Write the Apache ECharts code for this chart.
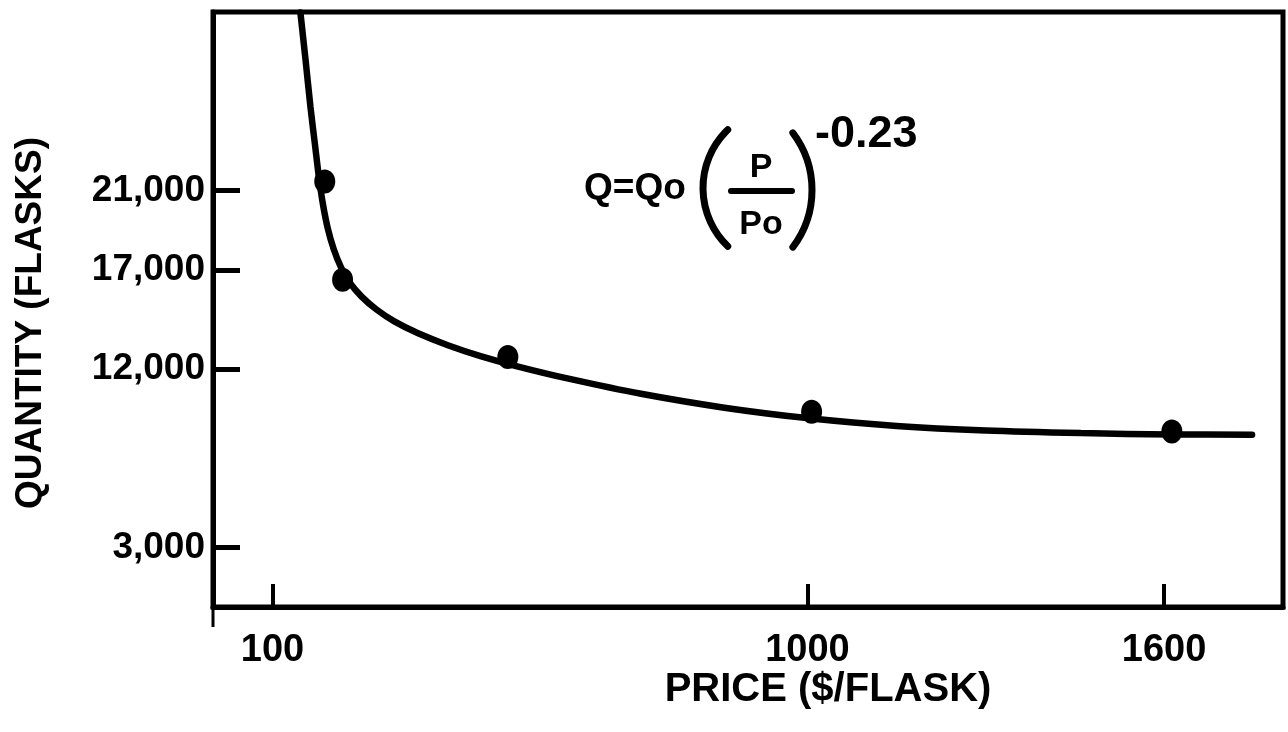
<!DOCTYPE html>
<html><head><meta charset="utf-8">
<script src="https://cdn.jsdelivr.net/npm/echarts@6/dist/echarts.min.js"></script>
<style>html,body{margin:0;padding:0;background:#fff}#c{width:1288px;height:732px}</style>
</head><body><div id="c"></div>
<script>
// ---- data ----
const xTickValues = [100, 1000, 1600];
const yTickValues = [3000, 12000, 17000, 21000];
const pointPrice = [188, 218, 496, 1007, 1613];
const pointQty   = [21450, 16500, 12600, 9850, 8850];
const curvePrice = [147, 156, 164, 172, 178, 185, 193, 203, 215, 230, 250, 275, 305, 345, 395, 450, 510, 600, 720, 860, 1007, 1150, 1300, 1460, 1614, 1748];
const curveQty   = [29980, 27500, 25200, 23200, 21700, 20300, 19100, 18050, 17150, 16350, 15650, 15000, 14400, 13800, 13200, 12650, 12150, 11500, 10750, 10050, 9500, 9130, 8900, 8770, 8700, 8690];
const xAxisTitle = 'PRICE ($/FLASK)';
const yAxisTitle = 'QUANTITY (FLASKS)';
const eqLeft = 'Q=Qo', eqNum = 'P', eqDen = 'Po', eqExp = '-0.23';

const FONT = "'Liberation Sans', Arial, sans-serif";
const chart = echarts.init(document.getElementById('c'), null, {renderer: 'canvas'});
const txt = (text, x, y, size, align, valign, extra) => Object.assign({
  type: 'text', x, y,
  style: {text, fontSize: size, fontWeight: 'bold', fontFamily: FONT, fill: '#000', align, verticalAlign: valign}
}, extra || {});

chart.setOption({
  animation: false,
  backgroundColor: '#fff',
  grid: {left: 213, right: 5, top: 12, bottom: 125, show: true, borderColor: '#000', borderWidth: 5, backgroundColor: 'transparent'},
  xAxis: {
    type: 'value', min: 0, max: 1800,
    splitLine: {show: false},
    axisLine: {lineStyle: {color: '#000', width: 5}},
    axisTick: {show: true, inside: true, length: 23, customValues: xTickValues, lineStyle: {color: '#000', width: 4}},
    axisLabel: {customValues: xTickValues, margin: 25, fontSize: 38, fontWeight: 'bold', fontFamily: FONT, color: '#000',
      formatter: v => String(v)}
  },
  yAxis: {
    type: 'value', min: 0, max: 30000,
    splitLine: {show: false},
    axisLine: {lineStyle: {color: '#000', width: 5}},
    axisTick: {show: true, inside: true, length: 27, customValues: yTickValues, lineStyle: {color: '#000', width: 5}},
    axisLabel: {customValues: yTickValues, margin: 8, fontSize: 37, fontWeight: 'bold', fontFamily: FONT, color: '#000',
      formatter: v => Number(v).toLocaleString('en-US')}
  },
  series: [
    {type: 'line', data: curvePrice.map((p, i) => [p, curveQty[i]]), smooth: 0.3,
      showSymbol: false, lineStyle: {color: '#000', width: 6.5, cap: 'round'}, z: 2},
    {type: 'scatter', data: pointPrice.map((p, i) => [p, pointQty[i]]), symbol: 'circle', symbolSize: [21, 24],
      itemStyle: {color: '#000', opacity: 1}, z: 3}
  ],
  graphic: [
    {type: 'line', shape: {x1: 213, y1: 607, x2: 213, y2: 627}, style: {stroke: '#000', lineWidth: 3}},
    txt(yAxisTitle, 31, 323, 37, 'center', 'middle', {rotation: Math.PI / 2}),
    txt(xAxisTitle, 828, 690, 40, 'center', 'middle'),
    txt(eqLeft, 584, 189, 37, 'left', 'middle'),
    {type: 'arc', shape: {cx: 784, cy: 188, r: 81, startAngle: 134 * Math.PI / 180, endAngle: 226 * Math.PI / 180, clockwise: true},
      style: {stroke: '#000', lineWidth: 7, fill: null, lineCap: 'round'}},
    {type: 'arc', shape: {cx: 717, cy: 190, r: 95, startAngle: -37 * Math.PI / 180, endAngle: 37 * Math.PI / 180, clockwise: true},
      style: {stroke: '#000', lineWidth: 7, fill: null, lineCap: 'round'}},
    txt(eqNum, 761, 168, 34, 'center', 'middle'),
    {type: 'line', shape: {x1: 731, y1: 191, x2: 792, y2: 191}, style: {stroke: '#000', lineWidth: 6, lineCap: 'round'}},
    txt(eqDen, 761, 225, 34, 'center', 'middle'),
    txt(eqExp, 815, 135, 45, 'left', 'middle')
  ]
});
</script>
</body></html>
